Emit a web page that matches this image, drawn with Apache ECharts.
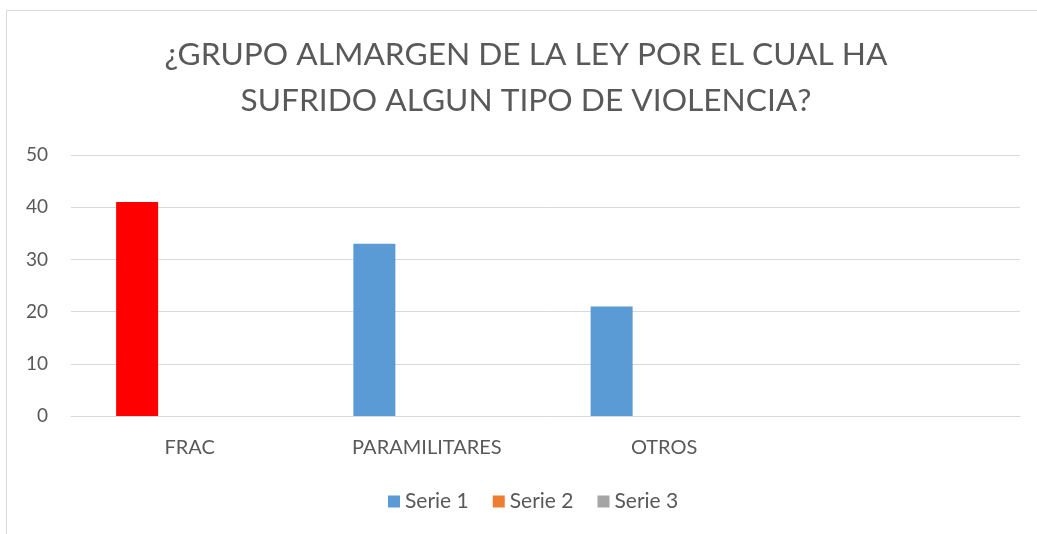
<!DOCTYPE html>
<html>
<head>
<meta charset="utf-8">
<script src="https://cdn.jsdelivr.net/npm/echarts@6/dist/echarts.min.js"></script>
<style>html,body{margin:0;padding:0;background:#fff}#c{width:1037px;height:534px}</style>
</head>
<body>
<div id="c"></div>
<script>
const categories = ['FRAC', 'PARAMILITARES', 'OTROS', ''];
const serie1 = [41, 33, 21, null];
const serie2 = [null, null, null, null];
const serie3 = [null, null, null, null];
const seriesNames = ['Serie 1', 'Serie 2', 'Serie 3'];
const yTicks = { min: 0, max: 50, interval: 10 };

const font = 'Lato';
const chart = echarts.init(document.getElementById('c'), null, { renderer: 'canvas' });
chart.setOption({
  animation: false,
  color: ['#5B9BD5', '#ED7D31', '#A5A5A5'],
  graphic: [{
    type: 'rect', silent: true, z: -1,
    shape: { x: 6.5, y: 10.5, width: 1200, height: 700 },
    style: { fill: 'none', stroke: '#d9d9d9', lineWidth: 1 }
  }],
  title: {
    text: '¿GRUPO ALMARGEN DE LA LEY POR EL CUAL HA\nSUFRIDO ALGUN TIPO DE VIOLENCIA?',
    left: 526, top: 32, padding: 0, textAlign: 'center',
    textStyle: { fontFamily: font, fontWeight: 'normal', fontSize: 31.7, color: '#595959', lineHeight: 46 }
  },
  legend: {
    bottom: 17, left: 383,
    icon: 'rect', itemWidth: 12, itemHeight: 12, itemGap: 24,
    textStyle: { fontFamily: font, fontSize: 21, color: '#595959' },
    data: seriesNames
  },
  grid: { left: 71, right: 17, top: 155, bottom: 118, containLabel: false },
  xAxis: {
    type: 'category', data: categories,
    axisLine: { show: true, lineStyle: { color: '#d9d9d9' } },
    axisTick: { show: false },
    axisLabel: { fontFamily: font, fontSize: 20, color: '#595959', margin: 22 }
  },
  yAxis: {
    type: 'value', min: yTicks.min, max: yTicks.max, interval: yTicks.interval,
    axisLine: { show: false }, axisTick: { show: false },
    axisLabel: { fontFamily: font, fontSize: 19, color: '#595959', margin: 23 },
    splitLine: { lineStyle: { color: '#d9d9d9', width: 1 } }
  },
  series: [
    { name: seriesNames[0], type: 'bar', barWidth: 42, barGap: '25%',
      data: serie1.map((v, i) => i === 0 ? { value: v, itemStyle: { color: '#FF0000' } } : v) },
    { name: seriesNames[1], type: 'bar', barWidth: 42, barGap: '25%', data: serie2 },
    { name: seriesNames[2], type: 'bar', barWidth: 42, barGap: '25%', data: serie3 }
  ]
});
</script>
</body>
</html>
